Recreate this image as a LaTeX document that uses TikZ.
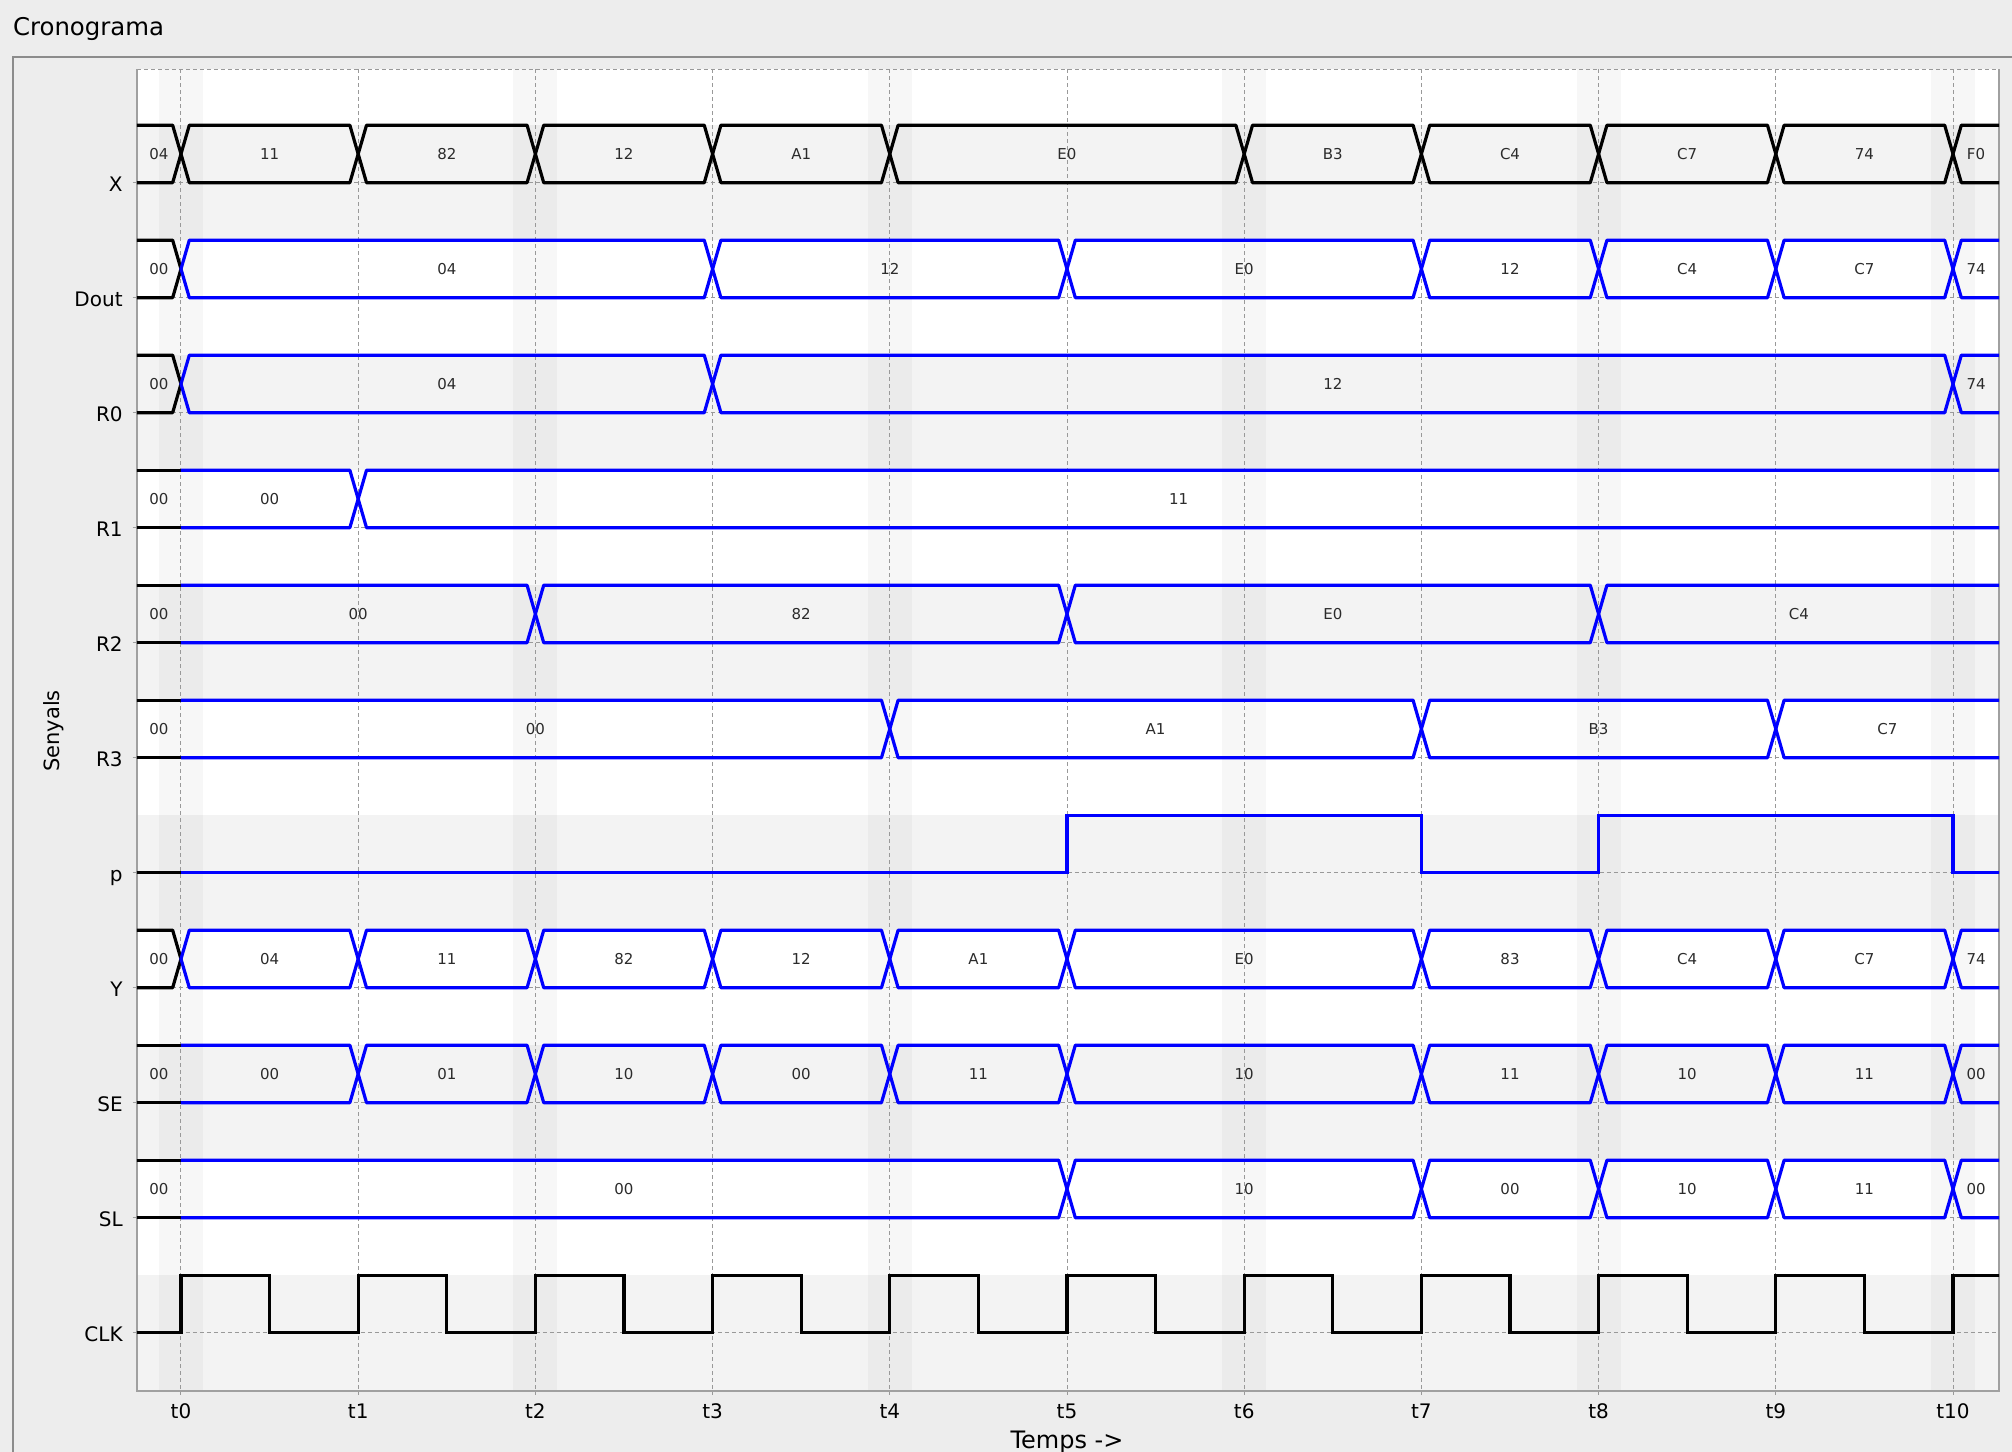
\documentclass[tikz,border=0pt]{standalone}
\usepackage{fontspec}
\setmainfont{DejaVu Sans}

\definecolor{winbg}{HTML}{EDEDED}
\definecolor{rowbg}{HTML}{F3F3F3}
\definecolor{sigblue}{HTML}{0000FF}
\definecolor{valtext}{HTML}{2B2B2B}
\definecolor{framegray}{HTML}{A0A0A0}

\newcounter{valnode}
\newcommand{\trw}{0.047}
% bus value with a crossing at both ends
\newcommand{\busseg}[5]{%
  \draw[sig,#1] (#3,#2-0.25) -- (#3+\trw,#2-0.5) -- (#4-\trw,#2-0.5)
    -- (#4,#2-0.25) -- (#4-\trw,#2) -- (#3+\trw,#2) -- cycle;
  \stepcounter{valnode}%
  \node[val] (v\arabic{valnode}) at ({(max(#3,-0.2494)+min(#4,10.26))/2},#2-0.25) {#5};}
% first value after t0, flat on the left
\newcommand{\busfirst}[3]{%
  \draw[sig,sigblue] (0,#1-0.5) -- (#2-\trw,#1-0.5) -- (#2,#1-0.25) -- (#2-\trw,#1) -- (0,#1);
  \stepcounter{valnode}%
  \node[val] (v\arabic{valnode}) at (#2/2,#1-0.25) {#3};}
% initial value, flat up to t0
\newcommand{\businit}[2]{%
  \draw[sig] (-0.5,#1-0.5) -- (0,#1-0.5) (-0.5,#1) -- (0,#1);
  \stepcounter{valnode}%
  \node[val] (v\arabic{valnode}) at (-0.1247,#1-0.25) {#2};}

\begin{document}
\begin{tikzpicture}[x=88.6pt, y=-57.5pt,
    sig/.style={line width=1.6pt, line join=round},
    val/.style={font=\fontsize{7.5}{9}\selectfont, text=valtext, inner sep=0pt},
    siglbl/.style={font=\fontsize{10}{12}\selectfont, anchor=base east, inner sep=0pt},
    tlbl/.style={font=\fontsize{10}{12}\selectfont, anchor=base, inner sep=0pt},
    gridline/.style={black!40, line width=0.5pt, dash pattern=on 2pt off 1.5pt},
    band/.style={fill=black, fill opacity=0.032}]
  \useasboundingbox (-1.0214,-1.5887) rectangle (10.333,11.037);
  % ==== WINDOW ====
  \fill[winbg] (-1.0214,-1.5887) rectangle (10.333,11.037);
  \node[anchor=base west, inner sep=0pt, font=\fontsize{12.2}{14}\selectfont] (title) at (-0.950,-1.284) {Cronograma};
  \draw[black!45, line width=1pt] (10.5,-1.0957) -- (-0.9464,-1.0957) -- (-0.9464,11.2);

  % ==== PLOT AREA ====
  \fill[white] (-0.2494,-0.9887) rectangle (10.26,10.504);
  \foreach \r in {0,2,...,8} \fill[rowbg] (-0.2494,\r-0.5) rectangle (10.26,\r+0.5);
  \fill[rowbg] (-0.2494,9.5) rectangle (10.26,10.504);
  \foreach \k in {0,2,...,10} \fill[band] (\k-0.124,-0.9887) rectangle (\k+0.124,10.504);
  \foreach \k in {0,...,10} \draw[gridline] (\k,-0.9887) -- (\k,10.545);
  \foreach \r in {0,...,10} \draw[gridline] (-0.2494,\r) -- (10.26,\r);
  \draw[gridline] (-0.2494,-0.9887) -- (10.26,-0.9887);
  \draw[framegray, line width=0.9pt] (-0.2494,-0.9887) -- (-0.2494,10.504) -- (10.26,10.504) -- (10.26,-0.9887);

  % ==== LABELS ====
  \foreach \s [count=\i from 0] in {X,Dout,R0,R1,R2,R3,p,Y,SE,SL,CLK} {
    \node[siglbl] (n\s) at (-0.327,\i+0.076) {\s};
    \draw[framegray, line width=0.5pt] (-0.273,\i) -- (-0.2494,\i);
  }
  \foreach \k in {0,...,10} \node[tlbl] (t\k) at (\k,10.742) {t\k};
  \node[font=\fontsize{12}{14}\selectfont, anchor=base, inner sep=0pt] (xlbl) at (5,11.003) {Temps ->};
  \node[font=\fontsize{10.5}{12}\selectfont, rotate=90, inner sep=0pt] (ylbl) at (-0.7207,4.768) {Senyals};

  % ==== SIGNALS ====
  \begin{scope}
    \clip (-0.2494,-0.9887) rectangle (10.26,10.504);
    % X
    \foreach \a/\b/\v in {-0.5/0/04,0/1/11,1/2/82,2/3/12,3/4/A1,4/6/E0,6/7/B3,7/8/C4,8/9/C7,9/10/74,10/10.6/F0}
      {\busseg{black}{0}{\a}{\b}{\v}}
    % Dout
    \busseg{black}{1}{-0.5}{0}{00}
    \foreach \a/\b/\v in {0/3/04,3/5/12,5/7/E0,7/8/12,8/9/C4,9/10/C7,10/10.6/74}
      {\busseg{sigblue}{1}{\a}{\b}{\v}}
    % R0
    \busseg{black}{2}{-0.5}{0}{00}
    \foreach \a/\b/\v in {0/3/04,3/10/12,10/10.6/74}
      {\busseg{sigblue}{2}{\a}{\b}{\v}}
    % R1
    \businit{3}{00}
    \busfirst{3}{1}{00}
    \busseg{sigblue}{3}{1}{10.6}{11}
    % R2
    \businit{4}{00}
    \busfirst{4}{2}{00}
    \foreach \a/\b/\v in {2/5/82,5/8/E0,8/10.6/C4}
      {\busseg{sigblue}{4}{\a}{\b}{\v}}
    % R3
    \businit{5}{00}
    \busfirst{5}{4}{00}
    \foreach \a/\b/\v in {4/7/A1,7/9/B3,9/10.6/C7}
      {\busseg{sigblue}{5}{\a}{\b}{\v}}
    % p
    \draw[sig] (-0.5,6) -- (0,6);
    \draw[sig, sigblue, line join=miter] (0,6) -- (5,6) -- (5,5.5) -- (7,5.5) -- (7,6) -- (8,6)
      -- (8,5.5) -- (10,5.5) -- (10,6) -- (10.6,6);
    % Y
    \busseg{black}{7}{-0.5}{0}{00}
    \foreach \a/\b/\v in {0/1/04,1/2/11,2/3/82,3/4/12,4/5/A1,5/7/E0,7/8/83,8/9/C4,9/10/C7,10/10.6/74}
      {\busseg{sigblue}{7}{\a}{\b}{\v}}
    % SE
    \businit{8}{00}
    \busfirst{8}{1}{00}
    \foreach \a/\b/\v in {1/2/01,2/3/10,3/4/00,4/5/11,5/7/10,7/8/11,8/9/10,9/10/11,10/10.6/00}
      {\busseg{sigblue}{8}{\a}{\b}{\v}}
    % SL
    \businit{9}{00}
    \busfirst{9}{5}{00}
    \foreach \a/\b/\v in {5/7/10,7/8/00,8/9/10,9/10/11,10/10.6/00}
      {\busseg{sigblue}{9}{\a}{\b}{\v}}
    % CLK
    \draw[sig, line join=miter] (-0.5,10) \foreach \k in {0,...,9} { -- (\k,10) -- (\k,9.5) -- (\k+0.5,9.5) -- (\k+0.5,10) }
      -- (10,10) -- (10,9.5) -- (10.6,9.5);
  \end{scope}
\end{tikzpicture}
\end{document}
